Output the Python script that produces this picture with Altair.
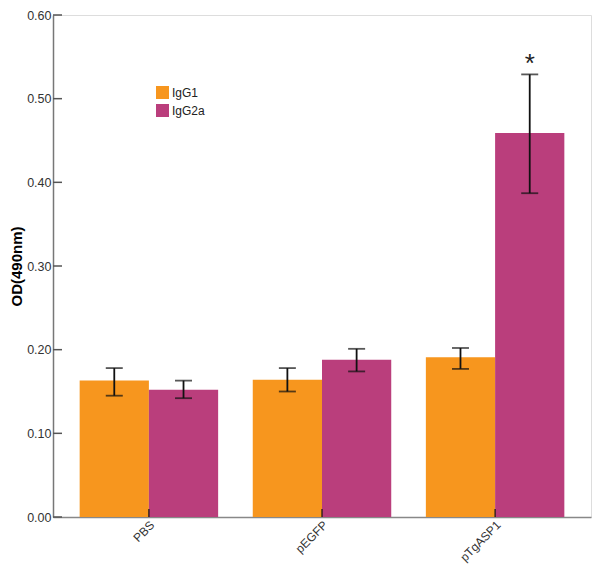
import altair as alt
import pandas as pd

groups = ["PBS", "pEGFP", "pTgASP1"]
series = ["IgG1", "IgG2a"]
igg1 = [0.163, 0.164, 0.191]
igg1_lo = [0.145, 0.150, 0.177]
igg1_hi = [0.178, 0.178, 0.202]
igg2a = [0.152, 0.188, 0.459]
igg2a_lo = [0.142, 0.174, 0.387]
igg2a_hi = [0.163, 0.201, 0.529]
igg1_sig = ["", "", ""]
igg2a_sig = ["", "", "*"]
y_ticks = [0.0, 0.1, 0.2, 0.3, 0.4, 0.5, 0.6]
colors = ["#F7961E", "#BA3E7C"]

rows = []
for i, g in enumerate(groups):
    rows.append(dict(group=g, series="IgG1", value=igg1[i], lo=igg1_lo[i], hi=igg1_hi[i], sig=igg1_sig[i]))
    rows.append(dict(group=g, series="IgG2a", value=igg2a[i], lo=igg2a_lo[i], hi=igg2a_hi[i], sig=igg2a_sig[i]))
df = pd.DataFrame(rows)
tick_df = pd.DataFrame({"t": y_ticks})

W, H = 538, 502
FONT = "Liberation Sans"

xenc = alt.X("group:N", sort=groups, title=None,
             scale=alt.Scale(paddingInner=0.2, paddingOuter=0.154),
             axis=alt.Axis(labelAngle=-45, labelAlign="right", labelBaseline="top",
                           labelFontSize=12, labelColor="#333", labelFont=FONT,
                           labelPadding=2, ticks=False, tickSize=0,
                           domainColor="#888", domainWidth=1.5))
xoff = alt.XOffset("series:N", sort=series, scale=alt.Scale(paddingInner=0, paddingOuter=0))
yscale = alt.Scale(domain=[0, 0.6], nice=False, zero=True)

base = alt.Chart(df)

bars = base.mark_bar().encode(
    x=xenc,
    xOffset=xoff,
    y=alt.Y("value:Q", scale=yscale, title="OD(490nm)",
            axis=alt.Axis(values=y_ticks, format=".2f", grid=False, ticks=False, tickSize=0,
                          labelPadding=2, labelFontSize=12.5, labelColor="#333", labelFont=FONT,
                          domainColor="#777", domainWidth=1.5,
                          titleFont=FONT, titleFontSize=15, titleFontWeight="bold",
                          titleColor="#000", titleX=-37, titleY=H / 2, titleAngle=-90,
                          titleAlign="center", titleBaseline="middle")),
    color=alt.Color("series:N", sort=series,
                    scale=alt.Scale(domain=series, range=colors),
                    legend=alt.Legend(title=None, orient="none", legendX=103, legendY=71,
                                      symbolType="square", symbolSize=169, symbolStrokeWidth=0,
                                      symbolOpacity=1, labelFontSize=12, labelFont=FONT,
                                      labelColor="#222", rowPadding=5, labelOffset=3)),
)

err = base.mark_rule(color="#111", strokeWidth=1.8).encode(
    x=alt.X("group:N", sort=groups), xOffset=xoff,
    y=alt.Y("lo:Q", scale=yscale), y2="hi:Q")
cap_lo = base.mark_tick(color="#111", size=17, thickness=1.8).encode(
    x=alt.X("group:N", sort=groups), xOffset=xoff, y=alt.Y("lo:Q", scale=yscale))
cap_hi = base.mark_tick(color="#111", size=17, thickness=1.8).encode(
    x=alt.X("group:N", sort=groups), xOffset=xoff, y=alt.Y("hi:Q", scale=yscale))
star = base.mark_text(fontSize=26, font=FONT, color="#222", baseline="alphabetic", dy=-2).encode(
    x=alt.X("group:N", sort=groups), xOffset=xoff, y=alt.Y("hi:Q", scale=yscale), text="sig:N")

yt = alt.Chart(tick_df).mark_rule(color="#555", strokeWidth=1.5).encode(
    y=alt.Y("t:Q", scale=yscale), x=alt.value(0), x2=alt.value(9))

xt = alt.Chart(pd.DataFrame({"group": groups})).mark_rule(color="#111", strokeWidth=1.2).encode(
    x=alt.X("group:N", sort=groups), y=alt.value(H), y2=alt.value(H - 8))

chart = alt.layer(bars, err, cap_lo, cap_hi, star, yt, xt).properties(
    width=W, height=H,
    autosize=alt.AutoSizeParams(type="none"),
    padding={"left": 45, "top": 7, "right": 1, "bottom": 49},
).configure_view(stroke=None).configure(background="white")

chart.save("out.html", embed_options={"renderer": "svg", "actions": False})
